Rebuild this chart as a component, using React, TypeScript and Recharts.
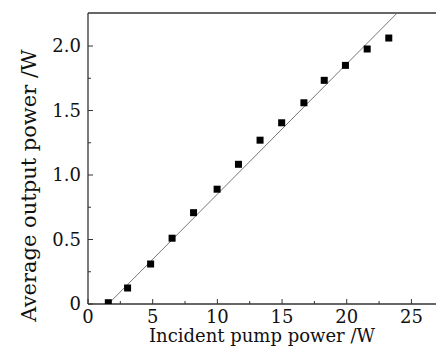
import React from "react";
import { ScatterChart, Scatter, XAxis, YAxis, ReferenceLine, Label } from "recharts";

const pumpPower = [1.57, 3.06, 4.84, 6.5, 8.16, 9.98, 11.63, 13.3, 14.97, 16.69, 18.26, 19.9, 21.58, 23.25];
const outputPower = [0.01, 0.124, 0.31, 0.51, 0.708, 0.89, 1.083, 1.27, 1.405, 1.56, 1.734, 1.85, 1.977, 2.062];
const fitX = [1.57, 23.9];
const fitY = [0, 2.256];
const xTicks = [0, 2.5, 5, 7.5, 10, 12.5, 15, 17.5, 20, 22.5, 25];
const yTicks = [0, 0.25, 0.5, 0.75, 1, 1.25, 1.5, 1.75, 2];
const xMajor = [0, 5, 10, 15, 20, 25];
const yMajor = [0, 0.5, 1, 1.5, 2];
const X_MAX = 26.9;
const Y_MAX = 2.256;

const points = pumpPower.map((x, i) => ({ x, y: outputPower[i] }));
const fitLine = fitX.map((x, i) => ({ x, y: fitY[i] }));

const FONT = "'DejaVu Serif', serif";
const AXIS = "#333";

const fmtY = (v: number) => (v === 0 ? "0" : v.toFixed(1));

const XTick = (props: any) => {
  const { x, y, payload } = props;
  const v = payload.value;
  const major = xMajor.includes(v);
  return (
    <g>
      <line x1={x} x2={x} y1={y} y2={y - (major ? 5 : 3)} stroke={AXIS} strokeWidth={1} />
      {major && (
        <text x={x} y={y + 19} textAnchor="middle" fontFamily={FONT} fontSize={18} fill="#111">
          {String(v)}
        </text>
      )}
    </g>
  );
};

const YTick = (props: any) => {
  const { x, y, payload } = props;
  const v = payload.value;
  const major = yMajor.includes(v);
  return (
    <g>
      <line x1={x} x2={x + (major ? 5 : 3)} y1={y} y2={y} stroke={AXIS} strokeWidth={1} />
      {major && (
        <text x={x - 7} y={y + 6} textAnchor="end" fontFamily={FONT} fontSize={18} fill="#111">
          {fmtY(v)}
        </text>
      )}
    </g>
  );
};

const YTitle = (props: any) => {
  const vb = props.viewBox || { x: 28, y: 13, width: 60, height: 291 };
  const cx = vb.x + 8;
  const cy = vb.y + vb.height / 2 + 27;
  return (
    <text
      x={cx}
      y={cy}
      transform={`rotate(-90, ${cx}, ${cy})`}
      textAnchor="middle"
      fontFamily={FONT}
      fontSize={21}
      fill="#111"
    >
      Average output power /W
    </text>
  );
};

const Square = (props: any) => {
  const { cx, cy } = props;
  if (cx == null || cy == null) return <g />;
  return <rect x={cx - 3.5} y={cy - 3.5} width={7} height={7} fill="#000" />;
};

const NoShape = () => <g />;

export default function App() {
  return (
    <div style={{ position: "absolute", left: 0, top: 0, width: 436, height: 346, background: "#fff" }}>
      <ScatterChart width={436} height={346} margin={{ top: 13, right: 0, bottom: 0, left: 28 }}>
        <XAxis
          type="number"
          dataKey="x"
          domain={[0, X_MAX]}
          ticks={xTicks}
          tick={<XTick />}
          tickLine={false}
          tickSize={0}
          tickMargin={0}
          height={42}
          allowDataOverflow
          axisLine={{ stroke: AXIS, strokeWidth: 1.3 }}
          label={{
            value: "Incident pump power /W",
            position: "insideBottom",
            offset: 4,
            fontFamily: FONT,
            fontSize: 18,
            fill: "#111",
          }}
        />
        <YAxis
          type="number"
          dataKey="y"
          domain={[0, Y_MAX]}
          ticks={yTicks}
          tick={<YTick />}
          tickLine={false}
          tickSize={0}
          tickMargin={0}
          width={60}
          allowDataOverflow
          axisLine={{ stroke: AXIS, strokeWidth: 1.3 }}
        >
          <Label content={<YTitle />} />
        </YAxis>
        <ReferenceLine y={Y_MAX} stroke={AXIS} strokeWidth={1.3} />
        <Scatter
          data={fitLine}
          line={{ stroke: "#777", strokeWidth: 1 }}
          shape={<NoShape />}
          isAnimationActive={false}
        />
        <Scatter data={points} shape={<Square />} isAnimationActive={false} />
      </ScatterChart>
    </div>
  );
}
